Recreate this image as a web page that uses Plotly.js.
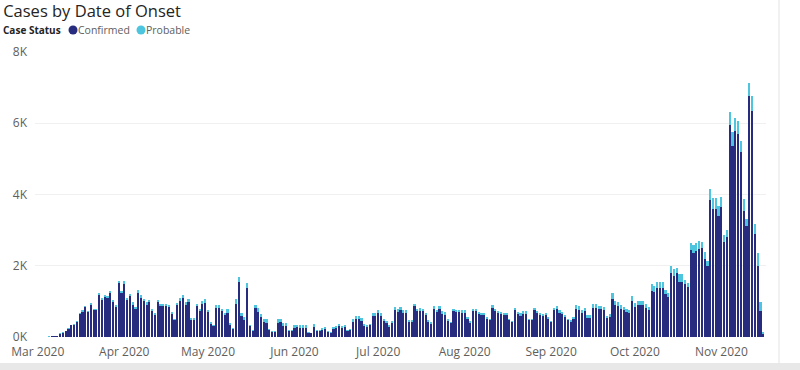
<!DOCTYPE html>
<html>
<head>
<meta charset="utf-8">
<script src="https://cdn.plot.ly/plotly-3.0.1.min.js"></script>
<style>html,body{margin:0;padding:0;background:#fff;}#chart{width:800px;height:370px;}</style>
</head>
<body>
<div id="chart"></div>
<script>
// first day of the daily series (one bar per day)
const startDate = '2020-03-01';

const confirmed = [
  5, 8, 9, 11, 13, 18, 27, 36, 92, 120, 168, 235, 330, 340, 425, 635, 710, 835, 700, 900, 750, 750, 1170, 1045, 1120, 1085, 1235, 990, 855, 1505, 1225, 1485, 1040, 1140,
  910, 785, 1235, 1090, 1010, 910, 985, 735, 630, 980, 870, 870, 860, 835, 645, 470, 890, 1020, 1095, 895, 980, 485, 480, 865, 720, 925, 965, 695, 365, 305,
  820, 825, 720, 610, 665, 330, 220, 940, 1550, 590, 480, 1380, 300, 175, 815, 710, 570, 410, 400, 190, 145, 145, 400, 410, 310, 310, 160, 160, 260, 275,
  240, 245, 240, 115, 100, 280, 155, 160, 210, 220, 140, 115, 225, 240, 320, 255, 290, 175, 200, 435, 500, 495, 455, 320, 280, 325, 585, 590, 660, 600,
  445, 385, 285, 395, 755, 705, 745, 660, 665, 425, 410, 860, 725, 740, 720, 610, 430, 375, 780, 690, 775, 650, 625, 460, 380, 720, 695, 690, 680, 680, 505,
  405, 720, 725, 635, 610, 605, 510, 470, 820, 730, 670, 635, 610, 620, 470, 410, 745, 635, 595, 640, 645, 465, 470, 755, 660, 615, 580, 610, 510, 410, 745,
  790, 680, 640, 570, 470, 425, 510, 780, 765, 680, 730, 540, 540, 805, 810, 790, 775, 750, 525, 575, 1070, 900, 875, 800, 755, 715, 680, 1000, 850, 900, 910,
  900, 825, 760, 1295, 1270, 1370, 1365, 1370, 1210, 1115, 1790, 1725, 1800, 1545, 1555, 1490, 1405, 2435, 2365, 2405, 2480, 2490, 2190, 1980, 3855,
  3595, 3595, 3410, 3645, 2660, 2800, 5960, 5370, 5790, 5700, 5180, 3550, 3110, 6770, 6350, 2880, 1980, 730, 90
];

const probable = [
  0, 0, 1, 1, 2, 2, 3, 4, 8, 10, 12, 15, 20, 20, 25, 35, 40, 45, 40, 50, 40, 40, 60, 55, 60, 55, 65, 50, 45, 75, 65, 75, 60, 60,
  70, 55, 75, 80, 60, 70, 65, 55, 50, 70, 60, 60, 70, 65, 55, 40, 70, 80, 75, 85, 90, 55, 60, 65, 70, 75, 95, 75, 55, 45,
  70, 65, 70, 60, 110, 60, 40, 120, 130, 90, 80, 140, 50, 30, 90, 110, 80, 100, 110, 40, 25, 25, 110, 100, 90, 80, 30, 30, 70, 75,
  90, 85, 90, 25, 20, 75, 50, 45, 50, 60, 30, 25, 55, 60, 55, 45, 55, 30, 35, 80, 90, 95, 85, 55, 50, 30, 85, 80, 90, 70,
  70, 55, 45, 60, 85, 90, 95, 90, 85, 60, 55, 75, 70, 80, 75, 70, 55, 45, 80, 75, 85, 80, 75, 55, 40, 75, 70, 75, 70, 70, 55,
  45, 75, 70, 65, 60, 65, 50, 45, 70, 65, 60, 65, 60, 60, 45, 40, 75, 65, 75, 80, 85, 50, 45, 65, 60, 55, 55, 60, 50, 40, 75,
  80, 70, 60, 55, 45, 40, 50, 110, 105, 70, 75, 70, 70, 110, 105, 90, 85, 90, 55, 60, 160, 110, 105, 90, 85, 70, 70, 140, 100, 110, 100,
  110, 90, 80, 180, 170, 170, 175, 170, 100, 120, 200, 190, 140, 210, 200, 100, 110, 210, 230, 230, 220, 190, 190, 150, 300,
  310, 300, 280, 280, 215, 190, 365, 375, 355, 355, 330, 310, 190, 355, 420, 280, 375, 250, 50
];

const yTickVals = [0, 2000, 4000, 6000, 8000];
const yTickText = ['0K', '2K', '4K', '6K', '8K'];
const seriesNames = ['Confirmed', 'Probable'];
const legendTitle = 'Case Status';
const chartTitle = 'Cases by Date of Onset';

// consecutive daily categories starting at startDate
const dates = [];
{
  const d0 = new Date(startDate + 'T00:00:00Z');
  for (let i = 0; i < confirmed.length; i++) {
    const d = new Date(d0.getTime() + i * 86400000);
    dates.push(d.toISOString().slice(0, 10));
  }
}

const navy = '#282C7E';
const cyan = '#4EC5DE';
const font = '"Open Sans", "Noto Sans", sans-serif';

const traces = [
  {type: 'bar', name: seriesNames[0], x: dates, y: confirmed, marker: {color: navy}, hoverinfo: 'skip'},
  {type: 'bar', name: seriesNames[1], x: dates, y: probable, marker: {color: cyan}, hoverinfo: 'skip'}
];

// legend row (paper coords)
const legY = 1.0772;
const legendDot = (xc, color) => ({type: 'circle', xref: 'paper', yref: 'paper', xsizemode: 'pixel', ysizemode: 'pixel',
  xanchor: xc, yanchor: legY, x0: -4.5, x1: 4.5, y0: -4.5, y1: 4.5, fillcolor: color, line: {width: 0}});

const layout = {
  width: 800, height: 370,
  barmode: 'stack', bargap: 0.22,
  showlegend: false,
  paper_bgcolor: '#ffffff', plot_bgcolor: '#ffffff',
  margin: {l: 35, r: 34, t: 52, b: 33, pad: 0},
  font: {family: font, color: '#605E5C', size: 12},
  title: {text: chartTitle, x: 0.004, xanchor: 'left', xref: 'container', y: 0.969, yanchor: 'middle', yref: 'container',
          font: {family: font, size: 16.5, color: '#252423'}},
  xaxis: {type: 'date', range: ['2020-02-29', '2020-11-17'], dtick: 'M1', tick0: '2020-03-01', tickformat: '%b %Y',
          showgrid: false, zeroline: false, showline: false, ticks: '', ticklabelstandoff: 6,
          tickfont: {size: 12, color: '#605E5C'}, fixedrange: true},
  yaxis: {range: [0, 8000], tickvals: yTickVals, ticktext: yTickText, showgrid: true, gridcolor: '#F0F0F0', gridwidth: 1,
          zeroline: false, showline: false, ticks: '', ticklabelstandoff: 7, tickfont: {size: 12, color: '#605E5C'}, fixedrange: true},
  shapes: [
    {type: 'rect', xref: 'paper', yref: 'paper', x0: -0.05, x1: 1.05, y0: -0.1158, y1: -0.0912, fillcolor: '#E8E8E8', line: {width: 0}, layer: 'below'},
    {type: 'line', xref: 'paper', yref: 'paper', x0: 1.0178, x1: 1.0178, y0: -0.0912, y1: 1.1825, line: {color: '#E3E3E3', width: 1}, layer: 'below'},
    legendDot(0.052, navy),
    legendDot(0.145, cyan)
  ],
  annotations: [
    {xref: 'paper', yref: 'paper', x: -0.0465, y: legY, xanchor: 'left', yanchor: 'middle', showarrow: false,
     font: {family: font, size: 10, color: '#252423'}, text: '<b>' + legendTitle + '</b>'},
    {xref: 'paper', yref: 'paper', x: 0.0565, y: legY, xanchor: 'left', yanchor: 'middle', showarrow: false,
     font: {family: font, size: 10.5, color: '#605E5C'}, text: seriesNames[0]},
    {xref: 'paper', yref: 'paper', x: 0.1495, y: legY, xanchor: 'left', yanchor: 'middle', showarrow: false,
     font: {family: font, size: 10.5, color: '#605E5C'}, text: seriesNames[1]}
  ]
};

Plotly.newPlot('chart', traces, layout, {displayModeBar: false, staticPlot: true});
</script>
</body>
</html>
